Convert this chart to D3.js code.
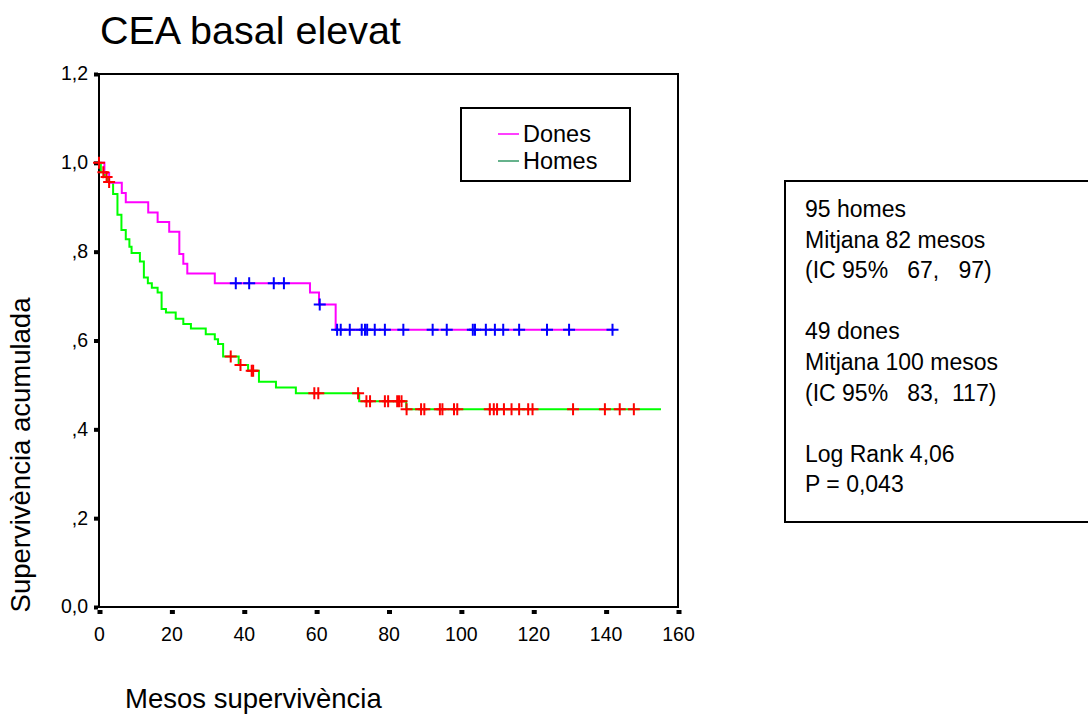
<!DOCTYPE html>
<meta charset="utf-8">
<style>
body { margin: 0; background: #fff; font-family: Arial, "Liberation Sans", sans-serif; }
text { fill: #000; }
</style>
<body>
<script src="https://d3js.org/d3.v7.min.js"></script>
<script>

// survival steps [month, cumulative survival]
var homesSteps = [
  [0, 1.0], [0.5, 0.979], [1.6, 0.968], [2.4, 0.957], [3.9, 0.93], [5.1, 0.883],
  [6.2, 0.849], [7.4, 0.828], [8.4, 0.811], [9.0, 0.797], [11.3, 0.778], [12.4, 0.742],
  [13.5, 0.729], [14.6, 0.719], [16.2, 0.708], [17.3, 0.671], [18.5, 0.663], [21.2, 0.649],
  [23.3, 0.637], [25.4, 0.627], [29.5, 0.614], [32.0, 0.603], [32.9, 0.592], [34.3, 0.564],
  [38.6, 0.545], [41.2, 0.532], [44.2, 0.507], [48.9, 0.494], [54.4, 0.481], [71.9, 0.463],
  [84.9, 0.445]
];
var homesEnd = 155.3;
var homesCensored = [0, 1.2, 2.1, 2.8, 36.4, 39.1, 42.2, 42.6, 59.5, 60.6, 71.6, 73.9, 74.9,
  79.0, 79.9, 82.4, 82.9, 83.6, 85.0, 89.0, 89.9, 94.2, 94.9, 98.1, 99.0, 108.0, 109.1,
  110.0, 111.9, 114.0, 116.1, 118.6, 119.8, 131.0, 139.8, 143.9, 147.8];

var donesSteps = [
  [0, 1.0], [1.5, 0.977], [2.8, 0.955], [6.3, 0.932], [7.4, 0.911], [13.6, 0.888],
  [16.2, 0.867], [19.4, 0.845], [22.2, 0.795], [23.3, 0.773], [24.4, 0.751], [32.0, 0.729],
  [58.3, 0.708], [60.8, 0.681], [65.4, 0.624]
];
var donesEnd = 142.5;
var donesCensored = [37.8, 41.5, 48.3, 51.1, 61.0, 65.8, 66.8, 69.3, 72.6, 73.5, 74.1, 76.2,
  79.0, 84.1, 92.2, 96.1, 103.3, 103.9, 106.9, 109.4, 111.7, 116.1, 123.8, 129.9, 141.9];

var xTicks = [0, 20, 40, 60, 80, 100, 120, 140, 160];
var yTicks = [0, 0.2, 0.4, 0.6, 0.8, 1.0, 1.2];
var yTickLabels = ["0,0", ",2", ",4", ",6", ",8", "1,0", "1,2"];

var legendNames = ["Dones", "Homes"];
var infoLines = ["95 homes", "Mitjana 82 mesos", "(IC 95%   67,   97)", "",
  "49 dones", "Mitjana 100 mesos", "(IC 95%   83,  117)", "",
  "Log Rank 4,06", "P = 0,043"];

var width = 1088, height = 715;
var plot = {left: 99, top: 74, right: 678, bottom: 607};

var svg = d3.select("body").append("svg")
    .attr("width", width)
    .attr("height", height);

var x = d3.scaleLinear().domain([0, 160]).range([plot.left, plot.right]);
var y = d3.scaleLinear().domain([0, 1.2]).range([plot.bottom, plot.top]);

// title
svg.append("text")
    .attr("x", 100).attr("y", 44)
    .style("font-size", "39.5px")
    .text("CEA basal elevat");

// frame
svg.append("rect")
    .attr("x", plot.left).attr("y", plot.top)
    .attr("width", plot.right - plot.left).attr("height", plot.bottom - plot.top)
    .attr("fill", "none").attr("stroke", "#000").attr("stroke-width", 2);

// x axis
var xAxis = svg.append("g")
    .attr("transform", "translate(0," + plot.bottom + ")")
    .call(d3.axisBottom(x).tickValues(xTicks).tickSize(0).tickPadding(20).tickFormat(d3.format("d")));
xAxis.select(".domain").remove();
xAxis.selectAll("text").style("font-size", "19.5px").style("font-family", "Arial, 'Liberation Sans', sans-serif");
xAxis.selectAll(".tick").append("rect")
    .attr("x", -2).attr("y", 3).attr("width", 5).attr("height", 4).attr("fill", "#000");

// y axis
var yAxis = svg.append("g")
    .attr("transform", "translate(" + plot.left + ",0)")
    .call(d3.axisLeft(y).tickValues(yTicks).tickSize(0).tickPadding(11)
      .tickFormat(function(d, i) { return yTickLabels[i]; }));
yAxis.select(".domain").remove();
yAxis.selectAll("text").style("font-size", "19.5px").style("font-family", "Arial, 'Liberation Sans', sans-serif")
    .attr("dy", "0.3em");
yAxis.selectAll(".tick").append("rect")
    .attr("x", -5).attr("y", -2).attr("width", 4).attr("height", 4).attr("fill", "#000");

// axis titles
svg.append("text")
    .attr("transform", "translate(30,455) rotate(-90)")
    .attr("text-anchor", "middle")
    .style("font-size", "27.5px")
    .text("Supervivència acumulada");
svg.append("text")
    .attr("x", 125).attr("y", 708)
    .style("font-size", "27.5px")
    .text("Mesos supervivència");

// survival curves
function stepPoints(steps, end) {
  return steps.concat([[end, steps[steps.length - 1][1]]]);
}
function survAt(steps, t) {
  var s = steps[0][1];
  steps.forEach(function(d) { if (d[0] <= t) s = d[1]; });
  return s;
}
var line = d3.line()
    .x(function(d) { return x(d[0]); })
    .y(function(d) { return y(d[1]); })
    .curve(d3.curveStepAfter);

svg.append("path")
    .datum(stepPoints(homesSteps, homesEnd))
    .attr("d", line)
    .attr("fill", "none").attr("stroke", "#00ff00").attr("stroke-width", 2);
svg.append("path")
    .datum(stepPoints(donesSteps, donesEnd))
    .attr("d", line)
    .attr("fill", "none").attr("stroke", "#ff00ff").attr("stroke-width", 2);

// censored marks
var cross = "M-6,0H6M0,-6V6";
svg.append("g").selectAll("path")
    .data(homesCensored)
  .enter().append("path")
    .attr("d", cross)
    .attr("transform", function(d) { return "translate(" + x(d) + "," + y(survAt(homesSteps, d)) + ")"; })
    .attr("stroke", "#ff0000").attr("stroke-width", 2).attr("fill", "none");
svg.append("g").selectAll("path")
    .data(donesCensored)
  .enter().append("path")
    .attr("d", cross)
    .attr("transform", function(d) { return "translate(" + x(d) + "," + y(survAt(donesSteps, d)) + ")"; })
    .attr("stroke", "#0000ff").attr("stroke-width", 2).attr("fill", "none");

// legend
var legend = svg.append("g").attr("transform", "translate(461,108)");
legend.append("rect")
    .attr("width", 169).attr("height", 73)
    .attr("fill", "#fff").attr("stroke", "#000").attr("stroke-width", 2);
var legendColors = ["#ff00ff", "#339966"];
legendNames.forEach(function(name, i) {
  legend.append("line")
      .attr("x1", 37).attr("x2", 58)
      .attr("y1", 26 + i * 27).attr("y2", 26 + i * 27)
      .attr("stroke", legendColors[i]).attr("stroke-width", 1.5);
  legend.append("text")
      .attr("x", 62).attr("y", 34 + i * 27)
      .style("font-size", "23.5px")
      .text(name);
});

// info box
svg.append("rect")
    .attr("x", 785).attr("y", 181)
    .attr("width", 400).attr("height", 341)
    .attr("fill", "none").attr("stroke", "#000").attr("stroke-width", 2);
var info = svg.append("text").style("font-size", "23px");
infoLines.forEach(function(l, i) {
  info.append("tspan")
      .attr("x", 805).attr("y", 217 + i * 30.6)
      .attr("xml:space", "preserve")
      .style("white-space", "pre")
      .text(l);
});

</script>
</body>
